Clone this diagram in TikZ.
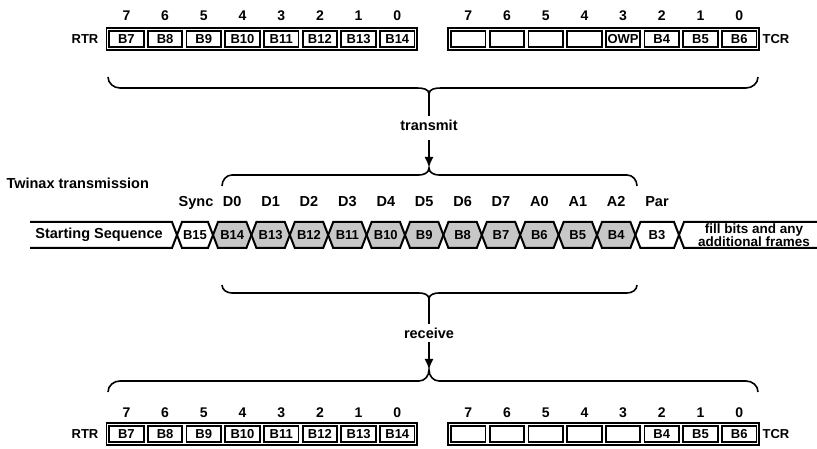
\documentclass[tikz,border=0pt]{standalone}
\usepackage{fontspec}
\setmainfont{Liberation Sans}
\usetikzlibrary{arrows.meta,positioning,fit,calc}

\begin{document}
\begin{tikzpicture}[x=1pt, y=1pt,
  cell/.style={draw, line width=1.8pt, minimum width=34.5pt, minimum height=16pt,
               inner sep=0pt, font=\fontsize{13}{13}\selectfont\bfseries},
  regbox/.style={draw, line width=1.9pt, inner sep=1.8pt},
  bitno/.style={font=\fontsize{14}{14}\selectfont\bfseries},
  lbl/.style={font=\fontsize{14.5}{13}\selectfont\bfseries, align=center},
  fldlbl/.style={lbl, text height=10.5pt, text depth=3pt},
  wtext/.style={font=\fontsize{13}{13}\selectfont\bfseries},
  brace/.style={line width=1.6pt},
  stem/.style={line width=2.8pt},
  ar/.style={-{Latex[length=11pt,width=9pt]}, line width=2.8pt},
  wave/.style={line width=2pt, line join=miter},
  fld/.style={wave, fill=black!22}]
\useasboundingbox (0,0) rectangle (817,449);

% registers before transmission
\foreach \b [count=\i from 0] in {B7,B8,B9,B10,B11,B12,B13,B14} {
  \pgfmathtruncatemacro\n{7-\i}
  \node[cell] (rtrA\i) at (126.4+38.7*\i,410) {\b};
  \node[bitno] (rtrAn\i) at (126.4+38.7*\i,433) {\n};
}
\foreach \b [count=\i from 0] in {{},{},{},{},OWP,B4,B5,B6} {
  \pgfmathtruncatemacro\n{7-\i}
  \node[cell] (tcrA\i) at (468.3+38.7*\i,410) {\b};
  \node[bitno] (tcrAn\i) at (468.3+38.7*\i,433) {\n};
}
\node[regbox, fit=(rtrA0)(rtrA7)] (rtrAbox) {};
\node[regbox, fit=(tcrA0)(tcrA7)] (tcrAbox) {};
\node[lbl, font=\fontsize{13}{13}\selectfont\bfseries] (rtrAlbl) at (85,410) {RTR};
\node[lbl, font=\fontsize{13}{13}\selectfont\bfseries] (tcrAlbl) at (776,410) {TCR};

% brace + transmit
\coordinate (topcusp) at (429,355);
\draw[brace] (108,372) to[out=-90,in=180] (120,361) -- (417,361)
  to[out=0,in=90] (topcusp) to[out=90,in=180] (441,361) -- (746,361)
  to[out=0,in=-90] (758,372);
\node[lbl] (tx) at (429,324) {transmit};
\draw[stem] (topcusp) -- (tx);

\coordinate (wtopcusp) at (429,281);
\draw[brace] (222,263) to[out=90,in=180] (232,274) -- (419,274)
  to[out=0,in=-90] (wtopcusp) to[out=-90,in=180] (439,274) -- (627,274)
  to[out=0,in=90] (637,263);
\draw[ar, shorten <=6pt] (tx) -- (wtopcusp);

% twinax frame
\node[lbl, anchor=west] (twx) at (3,266) {Twinax transmission};
\draw[wave] (30,227) -- (172,227) -- (177,214) -- (172,201) -- (30,201);
\node[lbl] (ss) at (99,214) {Starting Sequence};
\draw[wave] (177,214) -- (182,227) -- (208,227) -- (213,214) -- (208,201) -- (182,201) -- cycle;
\node[wtext] (b15) at (195,214) {B15};
\node[fldlbl] (sync) at (196,246) {Sync};
\foreach \b/\d [count=\i from 0] in {B14/D0,B13/D1,B12/D2,B11/D3,B10/D4,B9/D5,
                                      B8/D6,B7/D7,B6/A0,B5/A1,B4/A2} {
  \pgfmathsetmacro\xl{213+38.4*\i}
  \pgfmathsetmacro\xr{\xl+38.4}
  \filldraw[fld] (\xl,214) -- (\xl+5,227) -- (\xr-5,227) -- (\xr,214)
    -- (\xr-5,201) -- (\xl+5,201) -- cycle;
  \node[wtext] (w\i) at ({(\xl+\xr)/2},214) {\b};
  \node[fldlbl] (wl\i) at ({(\xl+\xr)/2},246) {\d};
}
\draw[wave] (635.4,214) -- (640.4,227) -- (674,227) -- (679,214) -- (674,201) -- (640.4,201) -- cycle;
\node[wtext] (b3) at (657,214) {B3};
\node[fldlbl] (par) at (657,246) {Par};
\draw[wave] (817,227) -- (684,227) -- (679,214) -- (684,201) -- (817,201);
\node[lbl, font=\fontsize{13.5}{12.5}\selectfont\bfseries] (fill) at (754,214)
  {fill bits and any\\additional frames};

% brace + receive
\coordinate (wbotcusp) at (429,150);
\draw[brace] (222,164) to[out=-90,in=180] (232,156) -- (419,156)
  to[out=0,in=90] (wbotcusp) to[out=90,in=180] (439,156) -- (627,156)
  to[out=0,in=-90] (637,164);
\node[lbl] (rx) at (429,116) {receive};
\draw[stem] (wbotcusp) -- (rx);

\coordinate (botcusp) at (429,79);
\draw[brace] (108,57) to[out=90,in=180] (120,68) -- (419,68)
  to[out=0,in=-90] (botcusp) to[out=-90,in=180] (439,68) -- (746,68)
  to[out=0,in=90] (758,57);
\draw[ar] (rx) -- (botcusp);

% registers after reception
\foreach \b [count=\i from 0] in {B7,B8,B9,B10,B11,B12,B13,B14} {
  \pgfmathtruncatemacro\n{7-\i}
  \node[cell] (rtrB\i) at (126.4+38.7*\i,15) {\b};
  \node[bitno] (rtrBn\i) at (126.4+38.7*\i,36) {\n};
}
\foreach \b [count=\i from 0] in {{},{},{},{},{},B4,B5,B6} {
  \pgfmathtruncatemacro\n{7-\i}
  \node[cell] (tcrB\i) at (468.3+38.7*\i,15) {\b};
  \node[bitno] (tcrBn\i) at (468.3+38.7*\i,36) {\n};
}
\node[regbox, fit=(rtrB0)(rtrB7)] (rtrBbox) {};
\node[regbox, fit=(tcrB0)(tcrB7)] (tcrBbox) {};
\node[lbl, font=\fontsize{13}{13}\selectfont\bfseries] (rtrBlbl) at (85,15) {RTR};
\node[lbl, font=\fontsize{13}{13}\selectfont\bfseries] (tcrBlbl) at (776,15) {TCR};
\end{tikzpicture}
\end{document}
